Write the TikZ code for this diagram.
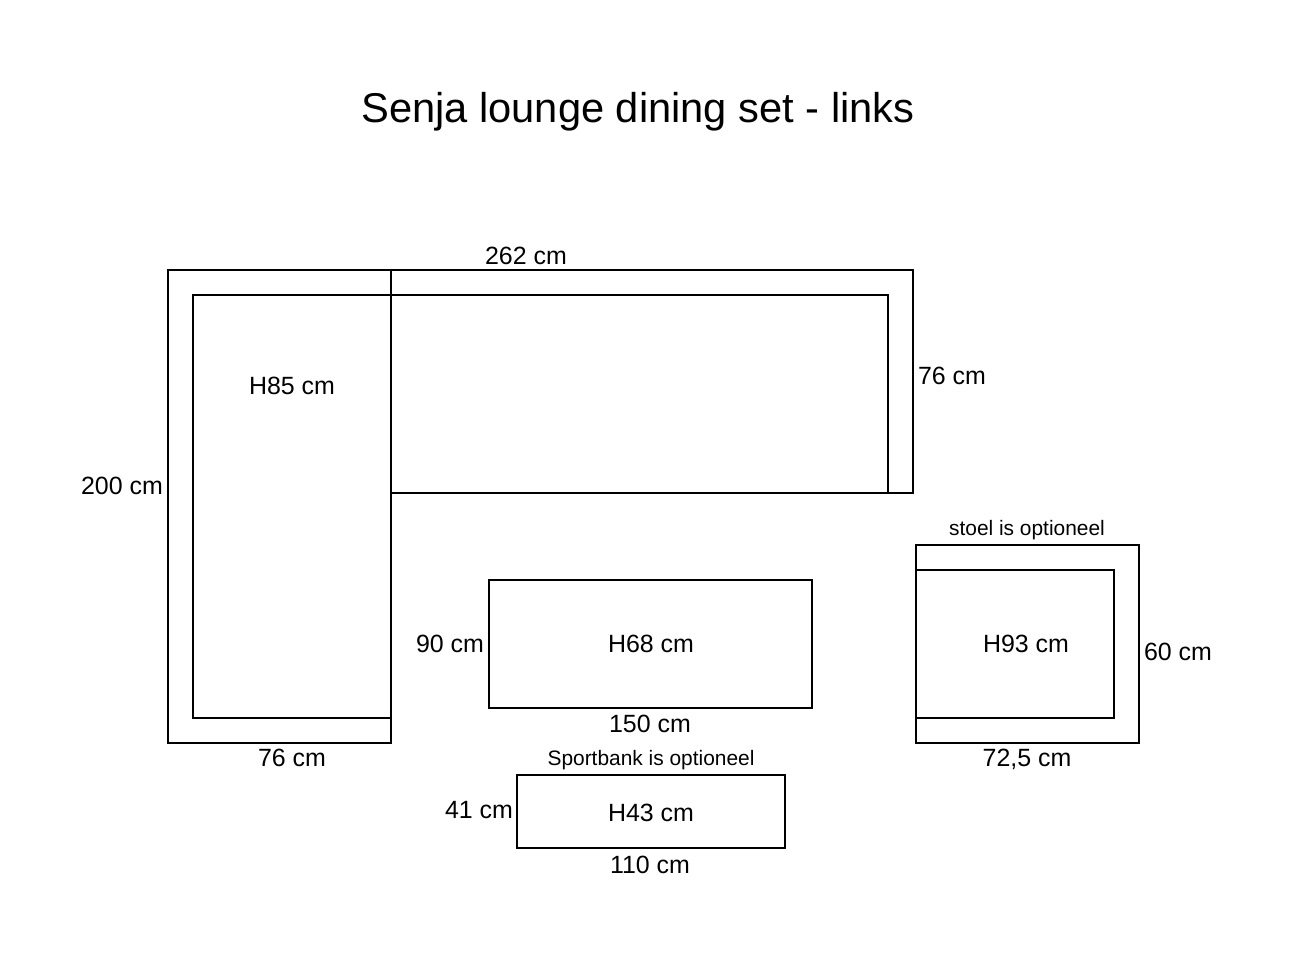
\documentclass[tikz,border=0pt]{standalone}
\usepackage{fontspec}
\setmainfont{Liberation Sans}
\tikzset{
    maat/.style={inner sep=0pt, font=\fontsize{14.2pt}{17pt}\selectfont},
    opmerking/.style={inner sep=0pt, font=\fontsize{11.9pt}{14pt}\selectfont},
    meubel/.style={line width=1.1pt}
}

\begin{document}
\begin{tikzpicture}[x=0.02cm,y=-0.02cm]
        \useasboundingbox (0,0) rectangle (1291,968);
        \fill[white] (0,0) rectangle (1291,968);

        \node[inner sep=0pt, font=\fontsize{23.7pt}{28pt}\selectfont] (titel) at (638,112) {Senja lounge dining set - links};

        % hoekbank
        \draw[meubel] (168,270) rectangle (391,743);
        \draw[meubel] (391,718) -- (193,718) -- (193,295) -- (391,295);
        \draw[meubel] (391,270) -- (913,270) -- (913,493) -- (391,493);
        \draw[meubel] (391,295) -- (888,295) -- (888,493);
        \node[maat] (breedte) at (526,256) {262 cm};
        \node[maat] (diepte) at (952,376) {76 cm};
        \node[maat] (lengte) at (122,486) {200 cm};
        \node[maat] (hoekh) at (292,386) {H85 cm};
        \node[maat] (hoekd) at (292,758) {76 cm};

        % tafel
        \draw[meubel] (489,580) rectangle (812,708);
        \node[maat] (tafelh) at (651,644) {H68 cm};
        \node[maat] (tafeld) at (450,644) {90 cm};
        \node[maat] (tafelb) at (650,724) {150 cm};

        % sportbank
        \draw[meubel] (517,775) rectangle (785,848);
        \node[opmerking] (bankopt) at (651,760) {Sportbank is optioneel};
        \node[maat] (bankh) at (651,813) {H43 cm};
        \node[maat] (bankd) at (479,810) {41 cm};
        \node[maat] (bankb) at (650,865) {110 cm};

        % stoel
        \draw[meubel] (916,545) rectangle (1139,743);
        \draw[meubel] (916,570) -- (1114,570) -- (1114,718) -- (916,718);
        \node[opmerking] (stoelopt) at (1027,530) {stoel is optioneel};
        \node[maat] (stoelh) at (1026,644) {H93 cm};
        \node[maat] (stoeld) at (1178,652) {60 cm};
        \node[maat] (stoelb) at (1027,759) {72,5 cm};
    \end{tikzpicture}
\end{document}
